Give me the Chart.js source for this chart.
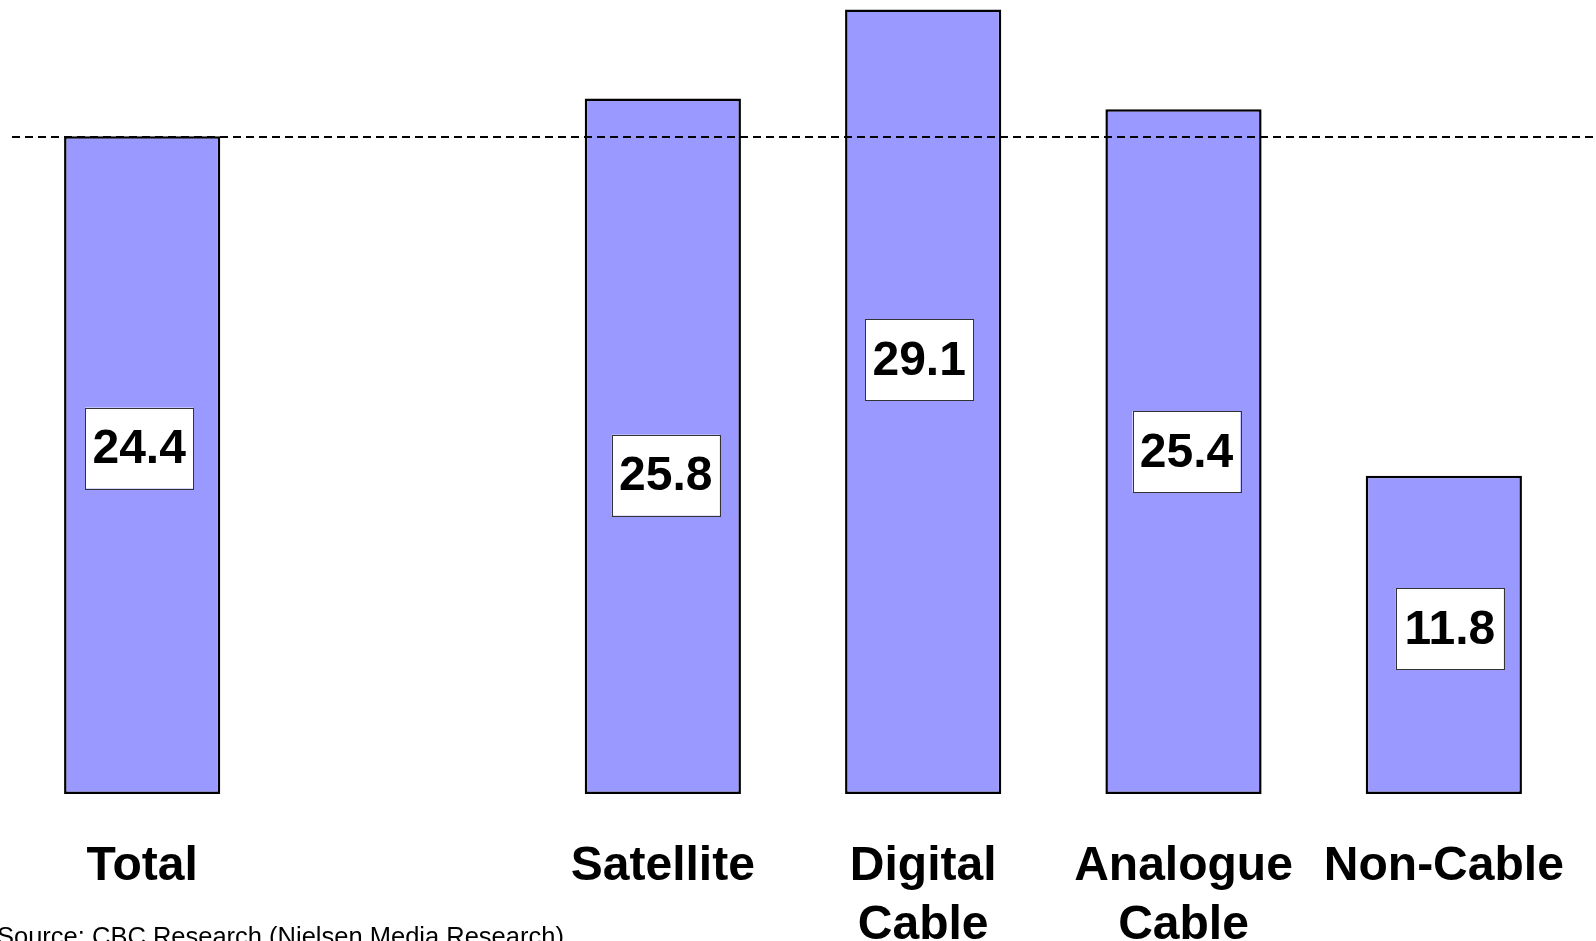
<!DOCTYPE html>
<html>
<head>
<meta charset="utf-8">
<script src="https://cdn.jsdelivr.net/npm/chart.js@4.4.1/dist/chart.umd.min.js"></script>
<style>
  html, body { margin: 0; padding: 0; background: #fff; overflow: hidden; }
  #wrap { width: 1596px; height: 941px; position: relative; }
</style>
</head>
<body>
<div id="wrap"><canvas id="myChart"></canvas></div>
<script>
"use strict";
// categories (second slot is an empty gap in the original)
const categories = ["Total", "", "Satellite", ["Digital", "Cable"], ["Analogue", "Cable"], "Non-Cable"];
const values = [24.4, null, 25.8, 29.1, 25.4, 11.8];
const referenceValue = 24.4;
const sourceText = "Source: CBC Research (Nielsen Media Research)";

// manual nudges of the value boxes, like the original slide
const boxNudgeX = [-3, 0, 3, -4, 3, 6];
const boxNudgeY = [-17, 0, 29, -42, 0, -6];

const fontFamily = "'Liberation Sans', Arial, Helvetica, sans-serif";

const slidePlugin = {
  id: "slide",
  afterDatasetsDraw(chart) {
    const c = chart.ctx;
    const y = chart.scales.y;
    const x = chart.scales.x;
    const meta = chart.getDatasetMeta(0);

    // dashed reference line
    const ry = Math.round(y.getPixelForValue(referenceValue)) + 1;
    c.save();
    c.strokeStyle = "#000";
    c.lineWidth = 2;
    c.setLineDash([8, 5]);
    c.beginPath();
    c.moveTo(12, ry);
    c.lineTo(chart.width, ry);
    c.stroke();
    c.restore();

    // value boxes
    c.save();
    meta.data.forEach((bar, i) => {
      if (values[i] == null) return;
      const cx = bar.x + boxNudgeX[i];
      const cy = (bar.y + bar.base) / 2 + boxNudgeY[i];
      const w = 108, h = 81;
      c.fillStyle = "#fff";
      c.fillRect(cx - w / 2, cy - h / 2, w, h);
      c.strokeStyle = "#333";
      c.lineWidth = 1;
      c.strokeRect(Math.round(cx - w / 2) + 0.5, Math.round(cy - h / 2) + 0.5, w, h);
      c.fillStyle = "#000";
      c.font = "bold 48px " + fontFamily;
      c.textAlign = "center";
      c.textBaseline = "middle";
      c.fillText(values[i].toFixed(1), cx, cy + 2);
    });
    c.restore();

    // category labels
    c.save();
    c.fillStyle = "#000";
    c.font = "bold 48px " + fontFamily;
    c.textAlign = "center";
    c.textBaseline = "alphabetic";
    categories.forEach((lab, i) => {
      const lines = Array.isArray(lab) ? lab : [lab];
      const px = x.getPixelForValue(i);
      lines.forEach((ln, k) => c.fillText(ln, px, 880 + k * 59));
    });

    // source note
    c.font = "25.5px " + fontFamily;
    c.textAlign = "left";
    c.fillText(sourceText, -3, 945);
    c.restore();
  }
};

const ctx = document.getElementById("myChart");
const myChart = new Chart(ctx, {
  type: "bar",
  data: {
    labels: categories,
    datasets: [
      {
        data: values,
        backgroundColor: "#9999FF",
        borderColor: "#000",
        borderWidth: 2.5,
        borderSkipped: false,
        barPercentage: 0.6,
        categoryPercentage: 1.0,
      },
    ],
  },
  options: {
    responsive: true,
    maintainAspectRatio: false,
    animation: false,
    layout: { padding: { left: 12, right: 22, top: 0, bottom: 147 } },
    plugins: {
      legend: { display: false },
      tooltip: { enabled: false },
    },
    scales: {
      x: { display: false },
      y: { display: false, min: 0, max: 29.45 },
    },
  },
  plugins: [slidePlugin],
});
</script>
</body>
</html>
